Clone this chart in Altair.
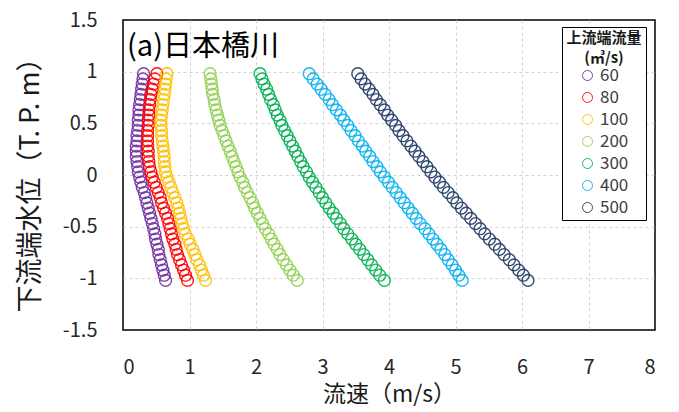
import altair as alt
import pandas as pd

# water level (T.P. m) at which velocities were read
levels = [0.98, 0.93, 0.88, 0.83, 0.78, 0.73, 0.68, 0.63, 0.58, 0.53, 0.48,
          0.43, 0.38, 0.33, 0.28, 0.23, 0.18, 0.13, 0.08, 0.03, -0.02,
          -0.07, -0.12, -0.17, -0.22, -0.27, -0.32, -0.37, -0.42, -0.47, -0.52,
          -0.57, -0.62, -0.67, -0.72, -0.77, -0.82, -0.87, -0.92, -0.97, -1.02]

flows = ["60", "80", "100", "200", "300", "400", "500"]
colors = ["#7030A0", "#FF0000", "#FFC000", "#92D050", "#00B050", "#00B0F0", "#203864"]

v60 = [0.31, 0.30, 0.29, 0.28, 0.27, 0.26, 0.25, 0.24, 0.24, 0.23, 0.23,
       0.22, 0.21, 0.21, 0.20, 0.20, 0.20, 0.21, 0.22, 0.23, 0.25,
       0.27, 0.29, 0.32, 0.34, 0.36, 0.38, 0.40, 0.42, 0.44, 0.46,
       0.48, 0.49, 0.51, 0.53, 0.54, 0.56, 0.58, 0.60, 0.62, 0.64]
v80 = [0.51, 0.48, 0.46, 0.44, 0.42, 0.41, 0.40, 0.39, 0.39, 0.38, 0.38,
       0.37, 0.37, 0.37, 0.37, 0.38, 0.38, 0.39, 0.40, 0.42, 0.44,
       0.47, 0.50, 0.53, 0.56, 0.58, 0.61, 0.64, 0.67, 0.69, 0.71,
       0.73, 0.75, 0.78, 0.80, 0.82, 0.85, 0.88, 0.91, 0.94, 0.97]
v100 = [0.66, 0.65, 0.64, 0.63, 0.62, 0.61, 0.60, 0.59, 0.58, 0.57, 0.57,
        0.58, 0.58, 0.59, 0.60, 0.61, 0.62, 0.62, 0.63, 0.64, 0.66,
        0.69, 0.72, 0.75, 0.78, 0.81, 0.83, 0.85, 0.87, 0.89, 0.91,
        0.94, 0.98, 1.01, 1.05, 1.08, 1.11, 1.15, 1.18, 1.21, 1.24]
v200 = [1.31, 1.32, 1.33, 1.34, 1.35, 1.37, 1.38, 1.40, 1.42, 1.44, 1.46,
        1.49, 1.52, 1.55, 1.58, 1.61, 1.64, 1.67, 1.70, 1.73, 1.76,
        1.80, 1.83, 1.87, 1.91, 1.95, 1.98, 2.02, 2.06, 2.10, 2.14,
        2.19, 2.23, 2.27, 2.32, 2.36, 2.41, 2.46, 2.51, 2.56, 2.62]
v300 = [2.06, 2.09, 2.12, 2.16, 2.19, 2.22, 2.26, 2.29, 2.32, 2.36, 2.39,
        2.43, 2.47, 2.51, 2.55, 2.59, 2.63, 2.67, 2.71, 2.76, 2.80,
        2.85, 2.90, 2.95, 3.00, 3.05, 3.10, 3.16, 3.21, 3.27, 3.32,
        3.38, 3.44, 3.50, 3.56, 3.62, 3.68, 3.74, 3.80, 3.86, 3.93]
v400 = [2.80, 2.86, 2.92, 2.98, 3.04, 3.10, 3.15, 3.21, 3.27, 3.32, 3.38,
        3.43, 3.49, 3.54, 3.60, 3.65, 3.71, 3.76, 3.82, 3.87, 3.93,
        3.99, 4.05, 4.11, 4.17, 4.23, 4.29, 4.35, 4.41, 4.47, 4.54,
        4.60, 4.66, 4.72, 4.78, 4.84, 4.89, 4.95, 5.00, 5.05, 5.10]
v500 = [3.53, 3.58, 3.64, 3.70, 3.76, 3.81, 3.87, 3.93, 3.98, 4.04, 4.10,
        4.15, 4.21, 4.27, 4.33, 4.39, 4.45, 4.51, 4.57, 4.63, 4.69,
        4.76, 4.82, 4.89, 4.96, 5.02, 5.09, 5.16, 5.23, 5.30, 5.37,
        5.44, 5.51, 5.59, 5.66, 5.73, 5.81, 5.88, 5.95, 6.02, 6.09]

x_ticks = [0, 1, 2, 3, 4, 5, 6, 7, 8]
y_ticks = [-1.5, -1, -0.5, 0, 0.5, 1, 1.5]

series = [v60, v80, v100, v200, v300, v400, v500]
rows = []
for i, (f, vals) in enumerate(zip(flows, series)):
    for y, x in zip(levels, vals):
        rows.append({"flow": f, "v": x, "h": y, "k": i})
df = pd.DataFrame(rows)

FONT = "Noto Sans CJK JP"

x_grid_op = {"condition": {"test": "datum.value <= 0 || datum.value >= 8", "value": 0}, "value": 1}
y_grid_op = {"condition": {"test": "datum.value <= -1.5 || datum.value >= 1.5", "value": 0}, "value": 1}

points = alt.Chart(df).mark_point(
    shape="circle", filled=False, size=140, strokeWidth=1.4, opacity=0.9
).encode(
    x=alt.X("v:Q", scale=alt.Scale(domain=[0, 8], nice=False),
            axis=alt.Axis(values=x_ticks, title="流速（m/s）", grid=True,
                          gridDash=[3, 3], gridColor="#d4d4d4", gridOpacity=x_grid_op,
                          domain=False, ticks=False, labelPadding=27, labelFontSize=20,
                          labelColor="#262626", labelFont=FONT,
                          titleFont=FONT, titleFontSize=23, titleFontWeight="normal",
                          titleColor="#1a1a1a", titleX=266, titleY=64,
                          titleBaseline="middle", titleAlign="center")),
    y=alt.Y("h:Q", scale=alt.Scale(domain=[-1.5, 1.5], nice=False),
            axis=alt.Axis(values=y_ticks, title="下流端水位（T. P. m）", grid=True,
                          gridDash=[3, 3], gridColor="#d4d4d4", gridOpacity=y_grid_op,
                          domain=False, ticks=False, labelPadding=26, labelFontSize=20,
                          labelColor="#262626", labelFont=FONT,
                          labelExpr="'' + datum.value",
                          titleFont=FONT, titleFontSize=27, titleFontWeight="normal",
                          titleColor="#1a1a1a", titleX=-93, titleY=158,
                          titleAngle=-90, titleBaseline="middle", titleAlign="center")),
    color=alt.Color("flow:N", sort=flows,
                    scale=alt.Scale(domain=flows, range=colors),
                    legend=alt.Legend(
                        title=["上流端流量", "(㎥/s)"], orient="none",
                        legendX=439, legendY=7, titleAnchor="middle",
                        titleAlign="center", titleFont=FONT, titleFontSize=15,
                        titleFontWeight="bold", titleColor="#1a1a1a",
                        titleLineHeight=20, titlePadding=1,
                        labelFont=FONT, labelFontSize=17, labelColor="#404040",
                        symbolType="circle", symbolSize=100, symbolStrokeWidth=1,
                        symbolFillColor="transparent", rowPadding=4,
                        strokeColor="#000000", fillColor="#ffffff",
                        padding=4, offset=0)),
    order=alt.Order("k:Q"),
)

label = alt.Chart(pd.DataFrame({"t": ["(a)日本橋川"]})).mark_text(
    align="left", baseline="middle", font=FONT, fontSize=29, color="#000000"
).encode(text="t:N", x=alt.value(4), y=alt.value(27))

chart = alt.layer(points, label).properties(
    width=532, height=310,
    autosize=alt.AutoSizeParams(type="none"),
    padding={"left": 115, "top": 12, "right": 16, "bottom": 82},
).configure_view(stroke="#000000", strokeWidth=1.5)

chart.save("out.html", embed_options={"renderer": "svg", "actions": False})
